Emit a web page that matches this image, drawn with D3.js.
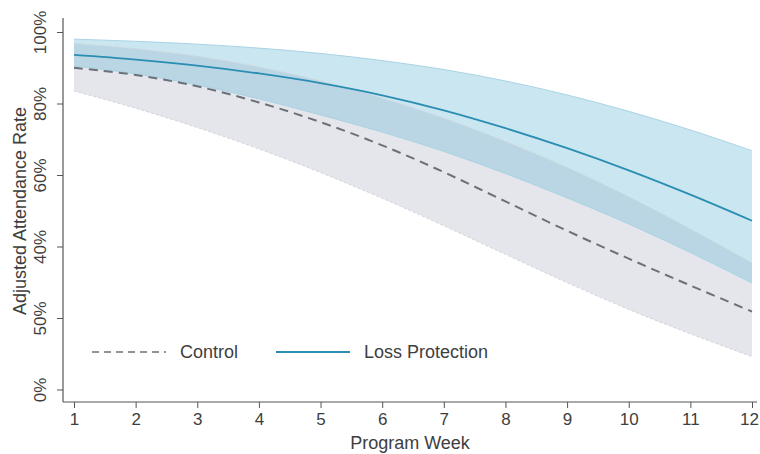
<!DOCTYPE html>
<html>
<head>
<meta charset="utf-8">
<script src="https://cdn.jsdelivr.net/npm/d3@7"></script>
<style>
  html, body { margin: 0; padding: 0; background: #fff; }
  svg { display: block; font-family: "Liberation Sans", Arial, sans-serif; }
</style>
</head>
<body>
<svg id="chart" width="760" height="454"></svg>
<script>
// data
const weeks = [1, 2, 3, 4, 5, 6, 7, 8, 9, 10, 11, 12];

const lossMean  = [93.6, 92.3, 90.6, 88.4, 85.7, 82.3, 78.1, 73.1, 67.5, 61.3, 54.5, 47.2];
const lossLower = [90.5, 88.3, 85.2, 81.3, 76.8, 72.0, 66.6, 60.4, 53.6, 46.3, 38.3, 29.8];
const lossUpper = [98.0, 97.4, 96.6, 95.5, 94.0, 92.0, 89.5, 86.3, 82.4, 77.8, 72.6, 66.8];

const ctrlMean  = [90.0, 88.0, 84.8, 80.3, 74.8, 68.3, 60.8, 52.6, 44.4, 36.6, 29.1, 21.8];
const ctrlLower = [83.5, 78.7, 73.3, 67.3, 60.7, 53.5, 45.8, 37.8, 29.9, 22.4, 15.6, 9.2];
const ctrlUpper = [96.8, 95.3, 93.2, 90.2, 86.3, 81.5, 75.9, 69.4, 62.1, 53.9, 44.9, 35.4];

const yTickValues = [0, 20, 40, 60, 80, 100];
const yTickLabels = ["0%", "50%", "40%", "60%", "80%", "100%"];

const seriesNames = ["Control", "Loss Protection"];

// layout
const margin = { left: 63, top: 18, right: 4, bottom: 52 };

const svg = d3.select("#chart");

const x = d3.scaleLinear().domain([1, 12]).range([74, 752]);
const y = d3.scaleLinear().domain([0, 100]).range([389.5, 32]);

const rows = weeks.map((w, i) => ({
  w,
  lm: lossMean[i], ll: lossLower[i], lu: lossUpper[i],
  cm: ctrlMean[i], cl: ctrlLower[i], cu: ctrlUpper[i]
}));

const curve = d3.curveCatmullRom.alpha(0.5);

const area = (lo, hi) => d3.area()
  .x(d => x(d.w)).y0(d => y(d[lo])).y1(d => y(d[hi])).curve(curve);
const line = key => d3.line().x(d => x(d.w)).y(d => y(d[key])).curve(curve);

// control band
svg.append("path").datum(rows)
  .attr("d", area("cl", "cu"))
  .attr("fill", "#e5e6eb");

// loss protection band (transparent, darker where it overlaps)
svg.append("path").datum(rows)
  .attr("d", area("ll", "lu"))
  .attr("fill", "rgb(115,188,218)")
  .attr("fill-opacity", 0.38);

// band edges
["cl", "cu"].forEach(k => {
  svg.append("path").datum(rows)
    .attr("d", line(k))
    .attr("fill", "none")
    .attr("stroke", "#d3d5dc")
    .attr("stroke-width", 1)
    .attr("stroke-dasharray", "3,2");
});
["ll", "lu"].forEach(k => {
  svg.append("path").datum(rows)
    .attr("d", line(k))
    .attr("fill", "none")
    .attr("stroke", "#a9d3e4")
    .attr("stroke-width", 1);
});

// mean lines
svg.append("path").datum(rows)
  .attr("d", line("cm"))
  .attr("fill", "none")
  .attr("stroke", "#6c707a")
  .attr("stroke-width", 2)
  .attr("stroke-dasharray", "9,6");

svg.append("path").datum(rows)
  .attr("d", line("lm"))
  .attr("fill", "none")
  .attr("stroke", "#2a8db2")
  .attr("stroke-width", 1.8);

// axes
const axisColor = "#555";
const textColor = "#3e3e3e";

const yAxis = svg.append("g")
  .attr("transform", `translate(${margin.left},0)`)
  .call(d3.axisLeft(y).tickValues(yTickValues).tickSize(6).tickPadding(4)
    .tickFormat((d, i) => yTickLabels[i]));
yAxis.select(".domain").remove();
yAxis.append("line")
  .attr("x1", 0).attr("x2", 0).attr("y1", 18).attr("y2", 402)
  .attr("stroke", axisColor).attr("stroke-width", 1.2);
yAxis.selectAll(".tick line").attr("stroke", axisColor);
yAxis.selectAll(".tick text")
  .attr("fill", textColor)
  .attr("font-size", 17)
  .attr("x", 0).attr("dy", 0)
  .attr("text-anchor", "middle")
  .attr("transform", "translate(-17,0) rotate(-90)");

const xAxis = svg.append("g")
  .attr("transform", "translate(0,402)")
  .call(d3.axisBottom(x).tickValues(weeks).tickSize(6).tickPadding(5)
    .tickFormat(d3.format("d")));
xAxis.select(".domain").remove();
xAxis.append("line")
  .attr("x1", margin.left).attr("x2", 757).attr("y1", 0).attr("y2", 0)
  .attr("stroke", axisColor).attr("stroke-width", 1.2);
xAxis.selectAll(".tick line").attr("stroke", axisColor);
xAxis.selectAll(".tick text")
  .attr("fill", textColor)
  .attr("font-size", 17)
  .attr("dx", d => d === 12 ? -3 : 0);

// axis titles
svg.append("text")
  .attr("transform", "translate(26,211) rotate(-90)")
  .attr("text-anchor", "middle")
  .attr("font-size", 18)
  .attr("fill", textColor)
  .text("Adjusted Attendance Rate");

svg.append("text")
  .attr("x", 410).attr("y", 449)
  .attr("text-anchor", "middle")
  .attr("font-size", 18)
  .attr("fill", textColor)
  .text("Program Week");

// legend
const legendY = 352;
const legend = svg.append("g");
const legendItems = [
  { name: seriesNames[0], x0: 92, stroke: "#6c707a", dash: "7,5", w: 1.6 },
  { name: seriesNames[1], x0: 276, stroke: "#2a8db2", dash: null, w: 1.8 }
];
legendItems.forEach(it => {
  legend.append("line")
    .attr("x1", it.x0).attr("x2", it.x0 + 74)
    .attr("y1", legendY).attr("y2", legendY)
    .attr("stroke", it.stroke)
    .attr("stroke-width", it.w)
    .attr("stroke-dasharray", it.dash);
  legend.append("text")
    .attr("x", it.x0 + 88).attr("y", legendY + 6)
    .attr("font-size", 18)
    .attr("fill", textColor)
    .text(it.name);
});
</script>
</body>
</html>
